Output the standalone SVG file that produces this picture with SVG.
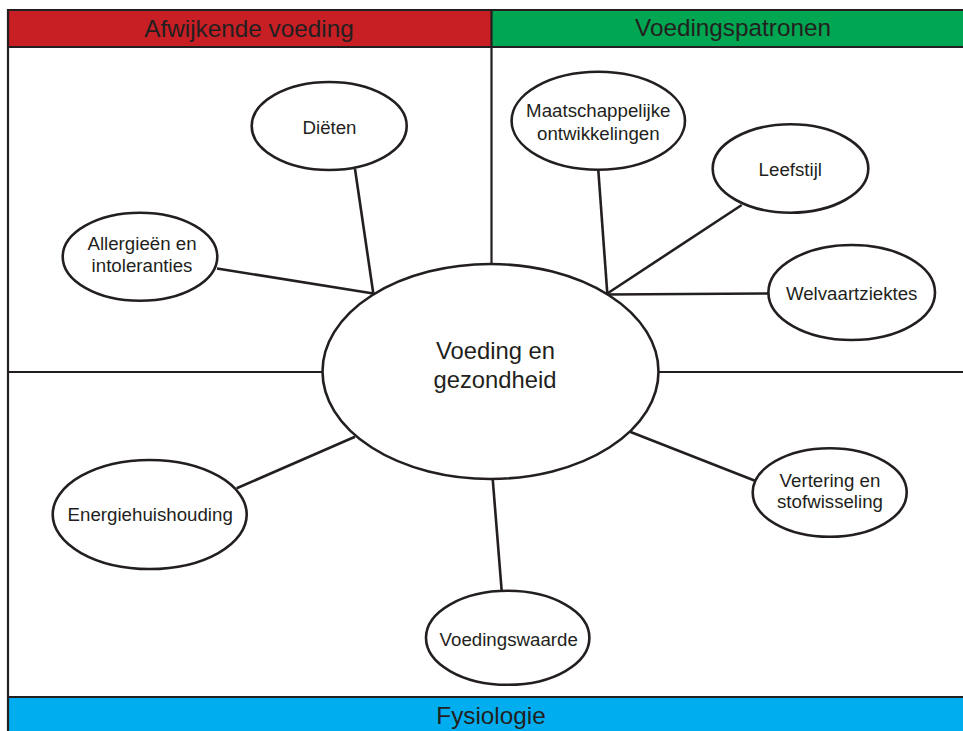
<svg xmlns="http://www.w3.org/2000/svg" width="963" height="731" viewBox="0 0 963 731">
<style>
.bd{stroke:#231f20;stroke-width:2.2;fill:none}
.nd{fill:#fff;stroke:#231f20;stroke-width:2.6}
.cn{stroke:#231f20;stroke-width:2.6;fill:none}
.hd{font-family:"Liberation Sans",Arial,sans-serif;font-size:24.3px;fill:#231f20;text-anchor:middle}
.ct{font-family:"Liberation Sans",Arial,sans-serif;font-size:23.8px;fill:#231f20;text-anchor:middle}
.lb{font-family:"Liberation Sans",Arial,sans-serif;font-size:18.7px;fill:#231f20;text-anchor:middle}
</style>
<rect width="963" height="731" fill="#fff"/>
<g id="frame">
<rect x="8" y="10" width="483.5" height="37" fill="#c81f25"/>
<rect x="491.5" y="10" width="480" height="37" fill="#00a651"/>
<rect x="8" y="697" width="965" height="40" fill="#00aeef"/>
<path class="bd" d="M8 740 V10 H975 M8 47 H975 M491.5 10 V264 M8 372 H322 M659 372 H975 M8 697 H975"/>
<text class="hd" x="249" y="36.5">Afwijkende voeding</text>
<text class="hd" x="733" y="36.3">Voedingspatronen</text>
<text class="hd" x="491" y="723.5">Fysiologie</text>
</g>
<g id="connectors">
<line class="cn" x1="355" y1="169" x2="373.3" y2="293.5"/>
<line class="cn" x1="217" y1="268.5" x2="373.3" y2="293.5"/>
<line class="cn" x1="598.3" y1="170" x2="607.3" y2="293.5"/>
<line class="cn" x1="741.7" y1="205" x2="607.3" y2="293.5"/>
<line class="cn" x1="768.5" y1="293.5" x2="607.3" y2="294.5"/>
<line class="cn" x1="236.7" y1="488.3" x2="355" y2="436.7"/>
<line class="cn" x1="755" y1="480.7" x2="630" y2="431.7"/>
<line class="cn" x1="501.7" y1="591" x2="492.7" y2="479"/>
</g>
<g id="center">
<ellipse class="nd" cx="490.5" cy="371.5" rx="168" ry="107.5"/>
<text class="ct" x="495.5" y="359.3">Voeding en</text>
<text class="ct" x="495" y="387.5">gezondheid</text>
</g>
<g id="dieten">
<ellipse class="nd" cx="329.2" cy="126" rx="77.5" ry="44"/>
<text class="lb" x="329.5" y="134">Diëten</text>
</g>
<g id="allergieen">
<ellipse class="nd" cx="140" cy="256.7" rx="77.3" ry="44"/>
<text class="lb" x="142" y="250">Allergieën en</text>
<text class="lb" x="142" y="271.7">intoleranties</text>
</g>
<g id="maatschappelijke">
<ellipse class="nd" cx="598.3" cy="120.8" rx="86.7" ry="49"/>
<text class="lb" x="598.3" y="117.3">Maatschappelijke</text>
<text class="lb" x="598.3" y="139.5">ontwikkelingen</text>
</g>
<g id="leefstijl">
<ellipse class="nd" cx="790.5" cy="168.5" rx="77.8" ry="44.2"/>
<text class="lb" x="790.3" y="176">Leefstijl</text>
</g>
<g id="welvaartziektes">
<ellipse class="nd" cx="851.7" cy="292.5" rx="83.3" ry="47.5"/>
<text class="lb" x="851.7" y="300">Welvaartziektes</text>
</g>
<g id="energiehuishouding">
<ellipse class="nd" cx="149.7" cy="514.5" rx="97" ry="54.5"/>
<text class="lb" x="150.2" y="520.7">Energiehuishouding</text>
</g>
<g id="vertering">
<ellipse class="nd" cx="829.7" cy="492.5" rx="77" ry="44.2"/>
<text class="lb" x="830" y="486.7">Vertering en</text>
<text class="lb" x="830" y="508.3">stofwisseling</text>
</g>
<g id="voedingswaarde">
<ellipse class="nd" cx="507.7" cy="637.8" rx="81.7" ry="47"/>
<text class="lb" x="508.7" y="645.7">Voedingswaarde</text>
</g>
</svg>
